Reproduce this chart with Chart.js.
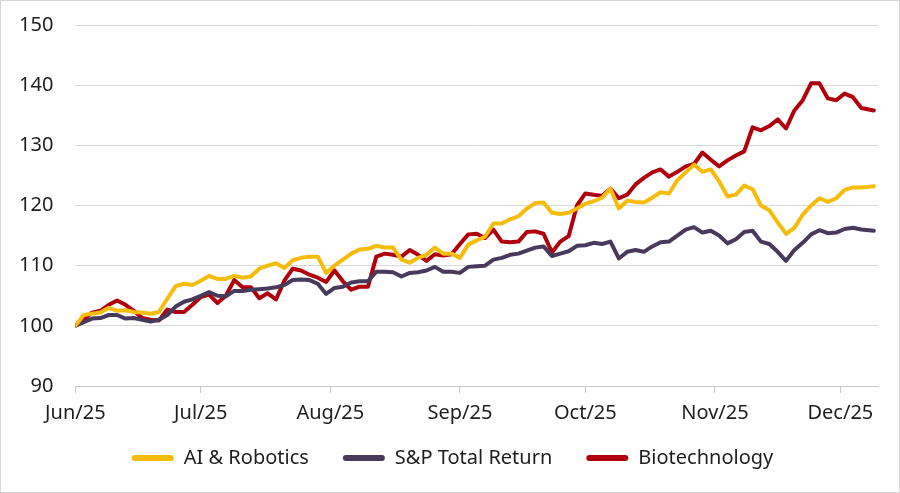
<!DOCTYPE html>
<html>
<head>
<meta charset="utf-8">
<script src="https://cdn.jsdelivr.net/npm/chart.js@4.4.1/dist/chart.umd.min.js"></script>
<style>
  html, body { margin: 0; padding: 0; background: #fff; }
  #wrap { position: relative; width: 900px; height: 493px; }
  #wrap::after { content: ''; position: absolute; left: 0; top: 0; right: 0; bottom: 0; border: 1px solid #d6d6d6; pointer-events: none; }
  canvas { display: block; }
</style>
</head>
<body>
<div id="wrap"><canvas id="c" width="900" height="493"></canvas></div>
<script>
// Days since 1 Jun 2025
const days = [0,2,4,6,8,10,12,14,16,18,20,22,24,26,28,30,32,34,36,38,40,42,44,46,48,50,52,54,56,58,60,62,64,66,68,70,72,74,76,78,80,82,84,86,88,90,92,94,96,98,100,102,104,106,108,110,112,114,116,118,120,122,124,126,128,130,132,134,136,138,140,142,144,146,148,150,152,154,156,158,160,162,164,166,168,170,172,174,176,178,180,182,184,186,188,191];

const aiRobotics = [100,101.8,102.0,102.2,103.0,102.5,102.6,102.3,102.2,102.0,102.3,104.5,106.6,107.0,106.8,107.5,108.3,107.8,107.8,108.3,108.0,108.2,109.5,110.0,110.4,109.6,110.9,111.3,111.5,111.5,108.8,110.0,111.0,112.0,112.7,112.8,113.3,113.0,113.0,111.0,110.5,111.3,111.8,113.0,112.0,112.0,111.3,113.5,114.2,114.8,117.0,117.0,117.7,118.2,119.5,120.4,120.5,118.8,118.6,118.8,119.5,120.3,120.7,121.3,122.8,119.5,120.8,120.6,120.5,121.3,122.2,122.0,124.2,125.5,126.8,125.6,126.0,124.0,121.5,121.8,123.3,122.7,120.0,119.2,117.2,115.3,116.3,118.5,120.0,121.2,120.6,121.2,122.6,123.0,123.0,123.2];

const spTotalReturn = [100,100.6,101.2,101.3,101.8,101.8,101.2,101.3,101.0,100.7,101.0,101.8,103.2,104.0,104.4,105.0,105.6,105.0,104.9,105.8,105.8,106.0,106.1,106.2,106.4,106.8,107.6,107.7,107.6,107.0,105.3,106.3,106.5,107.2,107.4,107.4,109.0,109.0,108.9,108.2,108.8,108.9,109.2,109.8,109.0,109.0,108.8,109.8,109.9,110.0,111.0,111.3,111.8,112.0,112.5,113.0,113.2,111.6,112.0,112.4,113.3,113.4,113.8,113.6,114.0,111.2,112.3,112.6,112.3,113.2,113.9,114.0,115.0,116.0,116.4,115.5,115.8,115.0,113.7,114.4,115.6,115.8,114.0,113.6,112.3,110.8,112.6,113.8,115.2,115.9,115.4,115.5,116.1,116.3,116.0,115.8];

const biotechnology = [100,101.0,102.2,102.5,103.5,104.2,103.5,102.5,101.3,101.0,100.9,102.7,102.3,102.3,103.5,104.8,105.2,103.8,105.0,107.6,106.4,106.4,104.6,105.4,104.4,107.5,109.5,109.2,108.5,108.0,107.3,109.2,107.4,106.0,106.5,106.5,111.5,112.0,111.8,111.5,112.6,111.8,110.8,111.9,111.7,111.9,113.6,115.2,115.3,114.6,116.0,114.0,113.9,114.0,115.6,115.7,115.3,112.2,114.0,114.9,120.0,122.0,121.8,121.6,122.8,121.2,121.8,123.5,124.6,125.5,126.0,124.8,125.6,126.5,126.9,128.8,127.6,126.5,127.5,128.3,129.0,133.0,132.5,133.2,134.3,132.8,135.8,137.5,140.3,140.3,137.8,137.5,138.6,138.0,136.2,135.8];

const monthTicks = [0,30,61,92,122,153,183];
const monthLabels = ['Jun/25','Jul/25','Aug/25','Sep/25','Oct/25','Nov/25','Dec/25'];
const yTicks = [90,100,110,120,130,140,150];

const seriesNames = ['AI & Robotics','S&P Total Return','Biotechnology'];
const colors = ['#F6BC0C','#483A5C','#B0000D'];
const seriesData = [aiRobotics, spTotalReturn, biotechnology];

const FONT = '"Noto Sans", "Open Sans", sans-serif';
const TEXT = '#1e1e1e';

const datasets = seriesNames.map((name, i) => ({
  label: name,
  data: days.map((d, j) => ({ x: d, y: seriesData[i][j] })),
  borderColor: colors[i],
  backgroundColor: colors[i],
  borderWidth: 4,
  pointRadius: 0,
  tension: 0,
  borderJoinStyle: 'round',
  borderCapStyle: 'round'
}));

// move the legend a little closer to the axis labels
const legendShift = {
  id: 'legendShift',
  afterLayout(chart) {
    const lg = chart.legend;
    if (lg) { lg.top -= 19; lg.bottom -= 19; lg.left += 15; lg.right += 15; }
  }
};

new Chart(document.getElementById('c'), {
  type: 'line',
  data: { datasets },
  plugins: [legendShift],
  options: {
    responsive: false,
    animation: false,
    devicePixelRatio: 1,
    layout: { padding: { left: -3, right: 22, top: 25, bottom: -4 } },
    plugins: {
      tooltip: { enabled: false },
      legend: {
        position: 'bottom',
        labels: {
          color: TEXT,
          font: { family: FONT, size: 20 },
          boxWidth: 42,
          boxHeight: 6,
          padding: 34,
          useBorderRadius: true,
          borderRadius: 3,
          generateLabels: (chart) => chart.data.datasets.map((ds, i) => ({
            text: ds.label,
            fillStyle: ds.borderColor,
            strokeStyle: ds.borderColor,
            lineWidth: 0,
            fontColor: TEXT,
            borderRadius: 3,
            datasetIndex: i,
            hidden: false
          }))
        }
      }
    },
    scales: {
      x: {
        type: 'linear',
        min: 0,
        max: 192,
        afterBuildTicks: (axis) => { axis.ticks = monthTicks.map(v => ({ value: v })); },
        afterFit: (scale) => { scale.paddingLeft = 0; scale.paddingRight = 0; },
        ticks: {
          color: TEXT,
          font: { family: FONT, size: 20 },
          padding: 8,
          maxRotation: 0,
          autoSkip: false,
          callback: (v) => { const k = monthTicks.indexOf(v); return k >= 0 ? monthLabels[k] : ''; }
        },
        grid: { drawOnChartArea: false, drawTicks: true, tickLength: 7, color: '#c8c8c8', lineWidth: 1 },
        border: { display: true, color: '#c8c8c8', width: 1 }
      },
      y: {
        min: 90,
        max: 150,
        afterBuildTicks: (axis) => { axis.ticks = yTicks.map(v => ({ value: v })); },
        afterFit: (scale) => { scale.paddingTop = 0; scale.paddingBottom = 0; },
        ticks: {
          color: TEXT,
          font: { family: FONT, size: 20 },
          padding: 22
        },
        grid: { color: '#d9d9d9', lineWidth: 1, drawTicks: false },
        border: { display: false }
      }
    }
  }
});
</script>
</body>
</html>
